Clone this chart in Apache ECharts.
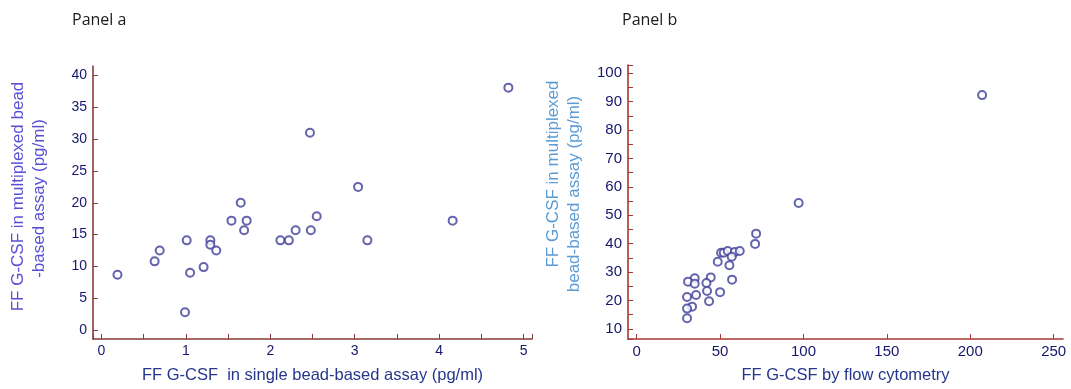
<!DOCTYPE html>
<html>
<head>
<meta charset="utf-8">
<script src="https://cdn.jsdelivr.net/npm/echarts@6/dist/echarts.min.js"></script>
<style>
html,body{margin:0;padding:0;background:#fff;}
#c{width:1071px;height:389px;}
</style>
</head>
<body>
<div id="c"></div>
<script>
// Panel a: single bead-based assay (x) vs multiplexed bead-based assay (y), pg/ml
const panelAX = [0.19, 0.63, 0.69, 1.01, 1.05, 0.99, 1.21, 1.29, 1.29, 1.36, 1.54, 1.65, 1.72, 1.69, 2.12, 2.22, 2.30, 2.47, 2.48, 2.55, 3.04, 3.15, 4.16, 4.82];
const panelAY = [8.7, 10.8, 12.5, 14.1, 9.0, 2.8, 9.9, 14.1, 13.4, 12.5, 17.2, 20.0, 17.2, 15.7, 14.1, 14.1, 15.7, 31.0, 15.7, 17.9, 22.5, 14.1, 17.2, 38.1];
// Panel b: flow cytometry (x) vs multiplexed bead-based assay (y)
const panelBX = [71.6, 71.0, 50.6, 52.2, 54.6, 58.8, 61.8, 57.0, 48.6, 55.6, 57.2, 44.4, 34.8, 30.8, 34.8, 41.8, 42.2, 50.0, 35.6, 30.2, 43.4, 33.2, 30.2, 30.2, 97.1, 207.1];
const panelBY = [43.5, 39.9, 36.8, 36.8, 37.4, 37.0, 37.4, 35.4, 33.6, 32.4, 27.3, 28.1, 27.8, 26.6, 25.9, 26.1, 23.3, 22.9, 21.9, 21.2, 19.7, 17.8, 17.1, 13.7, 54.3, 92.3];

const panelTitles = ['Panel a', 'Panel b'];
const xTitles = ['FF G-CSF  in single bead-based assay (pg/ml)', 'FF G-CSF by flow cytometry'];
const yTitleLines = [['FF G-CSF in multiplexed bead', '-based assay (pg/ml)'], ['FF G-CSF in multiplexed', 'bead-based assay (pg/ml)']];
const tickStepX = [1, 50];
const tickStepY = [5, 10];

function pairs(xs, ys){ return xs.map((x,i)=>[x, ys[i]]); }
function fmt(step){
  return function(v){
    const r = v/step;
    return Math.abs(r - Math.round(r)) < 1e-6 ? String(Math.round(r)*step) : '';
  };
}

const chart = echarts.init(document.getElementById('c'), null, {renderer:'canvas'});
const axisColA = '#8a3a3a';
const axisColB = '#a83434';
const labelCol = '#16166e';
const font = 'Liberation Sans, Arial, sans-serif';

function xAxis(idx, min, max, step, col, minor, fs){
  return {
    type:'value', gridIndex:idx, min:min, max:max, splitNumber:5,
    name: xTitles[idx], nameLocation:'middle', nameGap:28,
    nameTextStyle:{color:'#26368c', fontSize:16.5, fontFamily:font},
    axisLine:{show:true, onZero:false, lineStyle:{color:col, width:1.6}},
    axisTick:{show:true, inside:true, length:5, lineStyle:{color:col, width:1}},
    minorTick:{show:minor, splitNumber:2, length:5, lineStyle:{color:col, width:1}},
    splitLine:{show:false},
    axisLabel:{color:labelCol, fontSize:fs, fontFamily:font, margin:5, formatter:fmt(step), showMinLabel:false, showMaxLabel:false}
  };
}
// shifts: per-line padding (px) that moves each rotated line up (+) or down (-)
function yAxis(idx, min, max, step, split, col, minor, fs, gap, color, shifts){
  const lines = yTitleLines[idx];
  const rich = {};
  const parts = lines.map((t,i)=>{
    const s = shifts[i];
    rich['l'+i] = {color:color, fontSize:17, fontFamily:font, lineHeight:21,
      padding: s >= 0 ? [0,0,0,2*s] : [0,-2*s,0,0]};
    return '{l'+i+'|'+t+'}';
  });
  return {
    type:'value', gridIndex:idx, min:min, max:max, splitNumber:split,
    name: parts.join('\n'), nameLocation:'middle', nameGap:gap, nameRotate:90,
    nameTextStyle:{color:color, fontSize:17, fontFamily:font, lineHeight:21, rich:rich},
    axisLine:{show:true, onZero:false, lineStyle:{color:col, width:1.6}},
    axisTick:{show:true, inside:true, length:5, lineStyle:{color:col, width:1}},
    minorTick:{show:minor, splitNumber:2, length:5, lineStyle:{color:col, width:1}},
    splitLine:{show:false},
    axisLabel:{color:labelCol, fontSize:fs, fontFamily:font, margin:6, formatter:fmt(step), showMinLabel:false, showMaxLabel:false}
  };
}

const option = {
  backgroundColor:'#fff',
  animation:false,
  title:[
    {text:panelTitles[0], left:67, top:7, textStyle:{fontFamily:'Open Sans, sans-serif', fontSize:16, fontWeight:'normal', color:'#1a1a1a'}},
    {text:panelTitles[1], left:617, top:7, textStyle:{fontFamily:'Open Sans, sans-serif', fontSize:16, fontWeight:'normal', color:'#1a1a1a'}}
  ],
  grid:[
    {left:93, top:66, width:439, height:276},
    {left:628, top:65, width:435, height:276}
  ],
  xAxis:[
    xAxis(0, -0.1, 5.1, tickStepX[0], axisColA, true, 14),
    xAxis(1, -5.2, 255.6, tickStepX[1], axisColB, false, 15)
  ],
  yAxis:[
    yAxis(0, -1.4, 41.5, tickStepY[0], 8, axisColA, false, 14, 43, '#5a4fd4', [6, 4]),
    yAxis(1, 6.4, 102.9, tickStepY[1], 9, axisColB, true, 15, 43, '#5a9bd6', [28, 8])
  ],
  series:[
    {type:'scatter', xAxisIndex:0, yAxisIndex:0, data:pairs(panelAX, panelAY), symbol:'emptyCircle', symbolSize:8,
     itemStyle:{color:'#3d3d9a', borderColor:'#3d3d9a', borderWidth:1.5}},
    {type:'scatter', xAxisIndex:1, yAxisIndex:1, data:pairs(panelBX, panelBY), symbol:'emptyCircle', symbolSize:8,
     itemStyle:{color:'#3d3d9a', borderColor:'#3d3d9a', borderWidth:1.5}}
  ]
};
chart.setOption(option);
</script>
</body>
</html>
